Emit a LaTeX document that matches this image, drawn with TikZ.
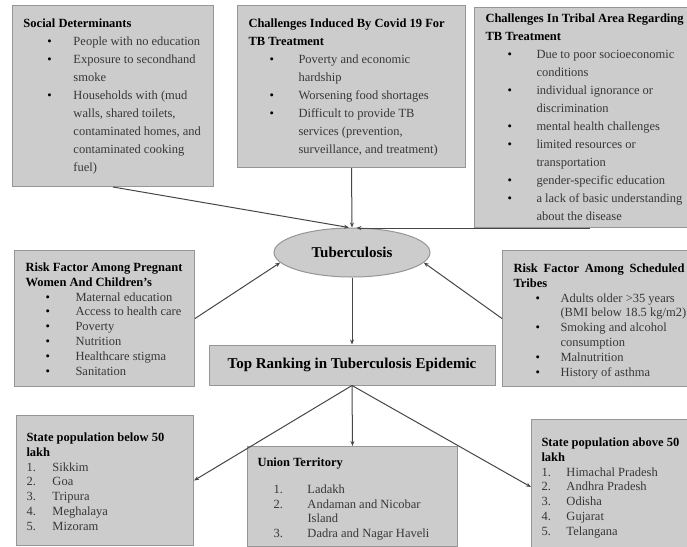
\documentclass[tikz,border=0pt]{standalone}
\usepackage{fontspec}
\setmainfont{Liberation Serif}
\usetikzlibrary{arrows.meta,shapes.geometric}
\definecolor{boxfill}{RGB}{204,204,204}
\definecolor{boxline}{RGB}{150,150,150}
\definecolor{linkcol}{RGB}{70,70,70}
\definecolor{bodytext}{RGB}{55,55,55}
\newcommand{\tbpanel}[3]{\parbox[c][#2][t]{#1}{#3}}
\newcommand{\tbhead}[1]{\multicolumn{2}{@{}l@{}}{\color{black}\textbf{#1}}}
\newcommand{\tbrows}[3]{\begin{tabular}[t]{@{\hspace{#1}}p{#2}@{}l@{}}#3\end{tabular}}
\newcommand{\tbdot}{\textcolor{black}{\textbullet}}
\begin{document}
\begin{tikzpicture}[x=1pt, y=-1pt, line width=1pt,
  panel/.style={draw=boxline, fill=boxfill, inner sep=0pt, anchor=north west, text=bodytext},
  wide/.style={font=\fontsize{12.5}{18}\selectfont},
  tight/.style={font=\fontsize{12.5}{14.8}\selectfont},
  bigbox/.style={draw=boxline, fill=boxfill, inner sep=0pt, font=\fontsize{15}{18}\selectfont\bfseries},
  link/.style={draw=linkcol, line width=1pt, -{Stealth[length=5pt,width=4pt]}}]
  \useasboundingbox (0,0) rectangle (687,546);
  \node[panel, wide] (social) at (12,5) {\tbpanel{201pt}{181pt}{\vspace*{9.4pt}\hspace*{11pt}\tbrows{24pt}{26pt}{%
    \tbhead{Social Determinants}\\
    \tbdot & People with no education\\
    \tbdot & Exposure to secondhand\\
    & smoke\\
    \tbdot & Households with (mud\\
    & walls, shared toilets,\\
    & contaminated homes, and\\
    & contaminated cooking\\
    & fuel)}}};
  \node[panel, wide] (covid) at (237,5) {\tbpanel{228pt}{162pt}{\vspace*{9.4pt}\hspace*{11pt}\tbrows{21pt}{29pt}{%
    \tbhead{Challenges Induced By Covid 19 For}\\
    \tbhead{TB Treatment}\\
    \tbdot & Poverty and economic\\
    & hardship\\
    \tbdot & Worsening food shortages\\
    \tbdot & Difficult to provide TB\\
    & services (prevention,\\
    & surveillance, and treatment)}}};
  \node[panel, wide] (tribal) at (474,7) {\tbpanel{230pt}{220pt}{\vspace*{2.5pt}\hspace*{11pt}\tbrows{22pt}{29pt}{%
    \tbhead{Challenges In Tribal Area Regarding}\\
    \tbhead{TB Treatment}\\
    \tbdot & Due to poor socioeconomic\\
    & conditions\\
    \tbdot & individual ignorance or\\
    & discrimination\\
    \tbdot & mental health challenges\\
    \tbdot & limited resources or\\
    & transportation\\
    \tbdot & gender-specific education\\
    \tbdot & a lack of basic understanding\\
    & about the disease}}};
  \node[ellipse, bigbox, minimum width=156pt, minimum height=49pt] (tb) at (352,252.5) {Tuberculosis};
  \node[panel, tight] (riskpw) at (14,250) {\tbpanel{180pt}{136pt}{\vspace*{10.7pt}\hspace*{11pt}\tbrows{20pt}{30pt}{%
    \tbhead{Risk Factor Among Pregnant}\\
    \tbhead{Women And Children’s}\\
    \tbdot & Maternal education\\
    \tbdot & Access to health care\\
    \tbdot & Poverty\\
    \tbdot & Nutrition\\
    \tbdot & Healthcare stigma\\
    \tbdot & Sanitation}}};
  \node[panel, tight] (riskst) at (502,250) {\tbpanel{210pt}{136pt}{\vspace*{11.7pt}\hspace*{11pt}\tbrows{22pt}{25pt}{%
    \tbhead{\makebox[171pt][s]{Risk Factor Among Scheduled}}\\
    \tbhead{Tribes}\\
    \tbdot & Adults older >35 years\\
    & (BMI below 18.5 kg/m2)\\
    \tbdot & Smoking and alcohol\\
    & consumption\\
    \tbdot & Malnutrition\\
    \tbdot & History of asthma}}};
  \node[bigbox, minimum width=286pt, minimum height=40pt] (rank) at (352,365) {Top Ranking in Tuberculosis Epidemic};
  \node[panel, tight] (below) at (16,415) {\tbpanel{177pt}{130pt}{\vspace*{15.7pt}\hspace*{10pt}\tbrows{0pt}{26pt}{%
    \tbhead{State population below 50}\\
    \tbhead{lakh}\\
    1. & Sikkim\\
    2. & Goa\\
    3. & Tripura\\
    4. & Meghalaya\\
    5. & Mizoram}}};
  \node[panel, tight] (union) at (247,446) {\tbpanel{210pt}{100pt}{\vspace*{9.7pt}\hspace*{10pt}\tbrows{16pt}{34pt}{%
    \tbhead{Union Territory}\\[12pt]
    1. & Ladakh\\
    2. & Andaman and Nicobar\\
    & Island\\
    3. & Dadra and Nagar Haveli}}};
  \node[panel, tight] (above) at (531,419) {\tbpanel{175pt}{135pt}{\vspace*{16.7pt}\hspace*{10pt}\tbrows{0pt}{25pt}{%
    \tbhead{State population above 50}\\
    \tbhead{lakh}\\
    1. & Himachal Pradesh\\
    2. & Andhra Pradesh\\
    3. & Odisha\\
    4. & Gujarat\\
    5. & Telangana}}};
  \draw[link] (social.south) -- (tb.97);
  \draw[link] (covid.south) -- (tb.north);
  \draw[link] (tribal.south) -- (tribal.south -| tb.80);
  \draw[link] (riskpw.east) -- (tb.188);
  \draw[link] (riskst.west) -- (tb.352);
  \draw[link] (tb.south) -- (rank.north);
  \draw[link] (rank.south) -- (below.east);
  \draw[link] (rank.south) -- (union.north);
  \draw[link] (rank.south) -- (above.west);
\end{tikzpicture}
\end{document}
